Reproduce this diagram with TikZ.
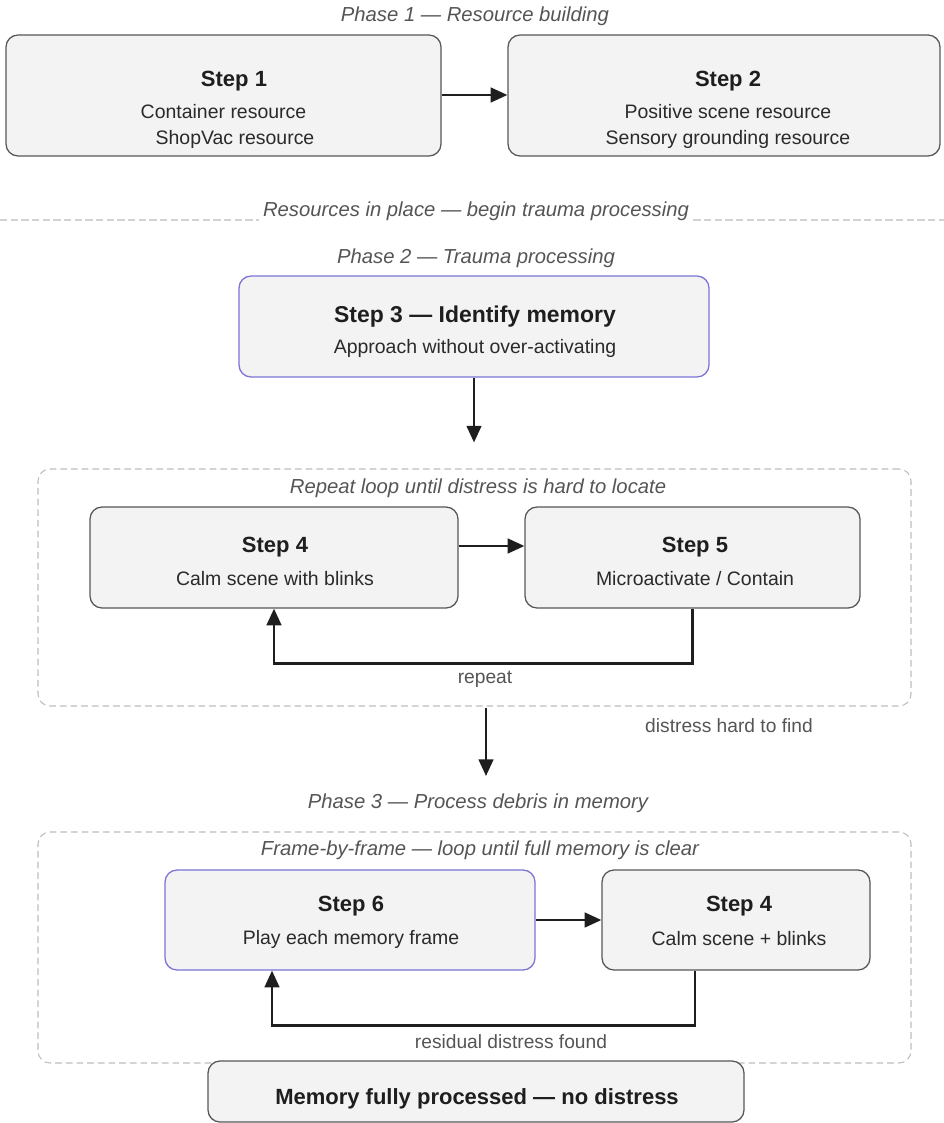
\documentclass[tikz,border=0pt]{standalone}
\usepackage{fontspec}
\setmainfont{Liberation Sans}
\usetikzlibrary{arrows.meta,fit,calc}
\definecolor{boxfill}{HTML}{F3F3F3}
\definecolor{boxline}{HTML}{575757}
\definecolor{purp}{HTML}{7B72D6}
\definecolor{grpline}{HTML}{BDBDBD}
\definecolor{sepline}{HTML}{D3D3D3}
\definecolor{ink}{HTML}{1E1E1E}
\definecolor{bodyink}{HTML}{2A2A2A}
\definecolor{lblink}{HTML}{555555}
\begin{document}
\begin{tikzpicture}[x=0.75pt,y=-0.75pt,
  box/.style={draw=boxline, fill=boxfill, line width=0.95pt, rounded corners=9pt, inner sep=0pt},
  pbox/.style={box, draw=purp},
  grp/.style={draw=grpline, dash pattern=on 5pt off 3pt, line width=0.8pt, rounded corners=9pt, inner sep=0pt},
  sepstyle/.style={draw=sepline, dash pattern=on 5.5pt off 2.5pt, line width=1.8pt},
  ttl/.style={font=\fontsize{16.5}{19}\selectfont\bfseries, text=ink, inner sep=0pt, anchor=base},
  txt/.style={font=\fontsize{14.6}{17}\selectfont, text=bodyink, inner sep=0pt, anchor=base},
  ital/.style={font=\fontsize{15.2}{18}\selectfont\itshape, text=lblink, inner sep=0pt, anchor=base},
  note/.style={font=\fontsize{14.4}{17}\selectfont, text=lblink, inner sep=0pt, anchor=base},
  arr/.style={draw=ink, line width=1.8pt, -{Triangle[length=12.5pt,width=11pt]}}
]
\useasboundingbox (0,0) rectangle (944,1123);

% ---------- Phase 1 ----------
\node[ital] (p1) at (475,22) {Phase 1 — Resource building};
\node[box, fit={(6,35) (441,156)}] (s1) {};
\node[box, fit={(508,35) (940,156)}] (s2) {};
\node[ttl] (s1t) at (234,87) {Step 1};
\node[txt] (s1a) at (223.5,119) {Container resource};
\node[txt] (s1b) at (235,145) {ShopVac resource};
\node[ttl] (s2t) at (728,87) {Step 2};
\node[txt] (s2a) at (728,119) {Positive scene resource};
\node[txt] (s2b) at (728,145) {Sensory grounding resource};
\draw[arr] (s1.east |- 0,95) -- (s2.west |- 0,95);

% ---------- separator ----------
\coordinate (sepL) at (0,220);
\coordinate (sepR) at (944,220);
\node[ital] (sepl) at (476,217) {Resources in place — begin trauma processing};
\draw[sepstyle] (sepL) -- ([xshift=-3pt]sepl.west |- sepL);
\draw[sepstyle] ([xshift=3pt]sepl.east |- sepR) -- (sepR);

% ---------- Phase 2 ----------
\node[ital] (p2) at (476,263) {Phase 2 — Trauma processing};
\node[pbox, fit={(239,276) (709,377)}] (s3) {};
\node[ttl, font=\fontsize{17.2}{20}\selectfont\bfseries] (s3t) at (475,322) {Step 3 — Identify memory};
\node[txt] (s3a) at (475,353) {Approach without over-activating};

\node[grp, fit={(38,469) (911,706)}] (g1) {};
\draw[arr] (s3.south) -- ([yshift=19.5pt]s3.south |- g1.north);
\node[ital] (g1l) at (478,493) {Repeat loop until distress is hard to locate};

\node[box, fit={(90,507) (458,608)}] (s4) {};
\node[box, fit={(525,507) (860,608)}] (s5) {};
\node[ttl] (s4t) at (275,552) {Step 4};
\node[txt] (s4a) at (275,585) {Calm scene with blinks};
\node[ttl] (s5t) at (695,552) {Step 5};
\node[txt] (s5a) at (695,585) {Microactivate / Contain};
\draw[arr] (s4.east |- 0,546) -- (s5.west |- 0,546);
\draw[arr] (s5.south) -- ++(0,55) -| (s4.south);
\node[note] (rep) at (485,683) {repeat};

\coordinate (d1) at (486,708);
\coordinate (d2) at (486,776);
\draw[arr] (d1) -- (d2);
\node[note] (dh) at (729,732) {distress hard to find};

% ---------- Phase 3 ----------
\node[ital] (p3) at (478,808) {Phase 3 — Process debris in memory};
\node[grp, fit={(38,832) (911,1063)}] (g2) {};
\node[ital] (g2l) at (480,855) {Frame-by-frame — loop until full memory is clear};

\node[pbox, fit={(165,870) (535,970)}] (s6) {};
\node[box, fit={(602,870) (870,970)}] (s7) {};
\node[ttl] (s6t) at (351,911) {Step 6};
\node[txt] (s6a) at (351,944) {Play each memory frame};
\node[ttl] (s7t) at (739,911) {Step 4};
\node[txt] (s7a) at (739,945) {Calm scene + blinks};
\draw[arr] (s6.east |- 0,920) -- (s7.west |- 0,920);
\coordinate (l2r) at (695,0);
\coordinate (l2l) at (272,0);
\draw[arr] (s7.south -| l2r) -- ++(0,55) -| (s6.south -| l2l);
\node[note] (res) at (511,1048) {residual distress found};

\node[box, fit={(208,1061) (744,1122)}] (fin) {};
\node[ttl] (fint) at (477,1104) {Memory fully processed — no distress};
\end{tikzpicture}
\end{document}
